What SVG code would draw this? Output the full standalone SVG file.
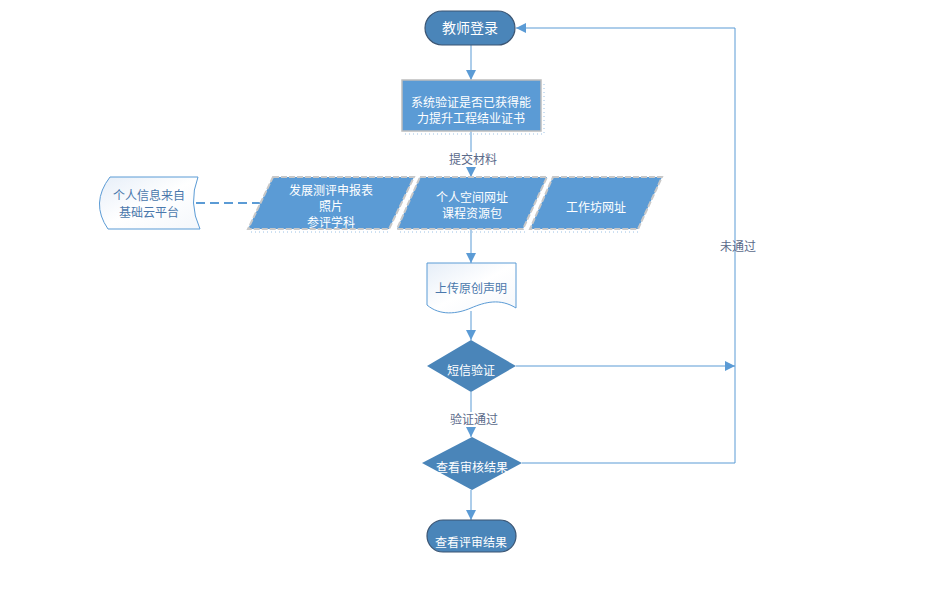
<svg xmlns="http://www.w3.org/2000/svg" width="935" height="608" viewBox="0 0 935 608">
<defs>
<marker id="arr" viewBox="0 0 10 10" refX="10" refY="5" markerWidth="10" markerHeight="10" markerUnits="userSpaceOnUse" orient="auto">
<path d="M0,0 L10,5 L0,10 z" fill="#5b9bd5"/>
</marker>
<linearGradient id="lg" x1="0" y1="0" x2="1" y2="1">
<stop offset="0" stop-color="#e6eef8"/>
<stop offset="0.5" stop-color="#ffffff"/>
<stop offset="1" stop-color="#f4f7fb"/>
</linearGradient>
<style>
.t{font-family:"Noto Sans CJK SC","Liberation Sans",sans-serif;font-size:12px;text-anchor:middle}
.w{fill:#ffffff}
.b{fill:#4a78ac}
.g{fill:#5a6a8a}
.term{fill:#4a85b9;stroke:#3b5573;stroke-width:1.2}
.box{fill:#5b9bd5;stroke:#bdbdbd;stroke-width:1.5}
.para{fill:#5b9bd5;stroke:#c8c8c8;stroke-width:2;stroke-dasharray:6,2}
.dia{fill:#4a85b9;stroke:none}
.light{fill:url(#lg);stroke:#5b9bd5;stroke-width:1}
.ln{fill:none;stroke:#5b9bd5;stroke-width:1}
.sh{fill:none;stroke:#5b9bd5;stroke-width:1;stroke-dasharray:1,3;opacity:0.6}
</style>
</defs>
<g id="connectors">
<path class="ln" d="M471,45 V80" marker-end="url(#arr)"/>
<path class="ln" d="M471,131 V177" marker-end="url(#arr)"/>
<path d="M196,203 H262" fill="none" stroke="#5b9bd5" stroke-width="2.2" stroke-dasharray="9,5"/>
<path class="ln" d="M471,229 V263" marker-end="url(#arr)"/>
<path class="ln" d="M471,311 V340" marker-end="url(#arr)"/>
<path class="ln" d="M516,366 H735" marker-end="url(#arr)"/>
<path class="ln" d="M471,392 V437" marker-end="url(#arr)"/>
<path class="ln" d="M522,463 H735 V28 H516" marker-end="url(#arr)"/>
<path class="ln" d="M471,490 V520" marker-end="url(#arr)"/>
<rect x="446" y="152" width="54" height="15" fill="#ffffff"/>
<text class="t g" x="473" y="164">提交材料</text>
<rect x="446" y="412" width="54" height="15" fill="#ffffff"/>
<text class="t g" x="474" y="424">验证通过</text>
<text class="t g" x="738" y="251">未通过</text>
</g>
<g id="start">
<rect class="term" x="425" y="11" width="90" height="34" rx="17"/>
<text class="t w" x="470" y="33" style="font-size:14px">教师登录</text>
</g>
<g id="verify">
<path class="sh" d="M405,134 H544 V84"/>
<rect class="box" x="402" y="80" width="139" height="51"/>
<text class="t w" x="471" y="107">系统验证是否已获得能</text>
<text class="t w" x="471" y="123">力提升工程结业证书</text>
</g>
<g id="cloud">
<path class="light" d="M110,177 H198 Q188,203 200,229 H108 Q90,203 110,177 z"/>
<text class="t b" x="149" y="200">个人信息来自</text>
<text class="t b" x="149" y="217">基础云平台</text>
</g>
<g id="p1">
<path class="sh" d="M251,232 H391"/>
<polygon class="para" points="273,177 414,177 389,229 248,229"/>
<text class="t w" x="331" y="195">发展测评申报表</text>
<text class="t w" x="331" y="211">照片</text>
<text class="t w" x="331" y="227">参评学科</text>
</g>
<g id="p2">
<path class="sh" d="M400,232 H526"/>
<polygon class="para" points="420,177 547,177 523,229 397,229"/>
<text class="t w" x="472" y="202">个人空间网址</text>
<text class="t w" x="472" y="218">课程资源包</text>
</g>
<g id="p3">
<path class="sh" d="M533,232 H641"/>
<polygon class="para" points="553,177 662,177 638,229 530,229"/>
<text class="t w" x="596" y="212">工作坊网址</text>
</g>
<g id="declare">
<path class="light" d="M427,263 H516 V308 C500,298 485,302 471,308 C457,314 440,316 427,305 z"/>
<text class="t b" x="471" y="293">上传原创声明</text>
</g>
<g id="sms">
<polygon class="dia" points="471,340 516,366 471,392 427,366"/>
<text class="t w" x="471" y="375">短信验证</text>
</g>
<g id="check">
<polygon class="dia" points="472,437 522,463 472,490 422,463"/>
<text class="t w" x="472" y="472">查看审核结果</text>
</g>
<g id="end">
<rect class="term" x="427" y="520" width="89" height="32" rx="16"/>
<text class="t w" x="471" y="547">查看评审结果</text>
</g>
</svg>
